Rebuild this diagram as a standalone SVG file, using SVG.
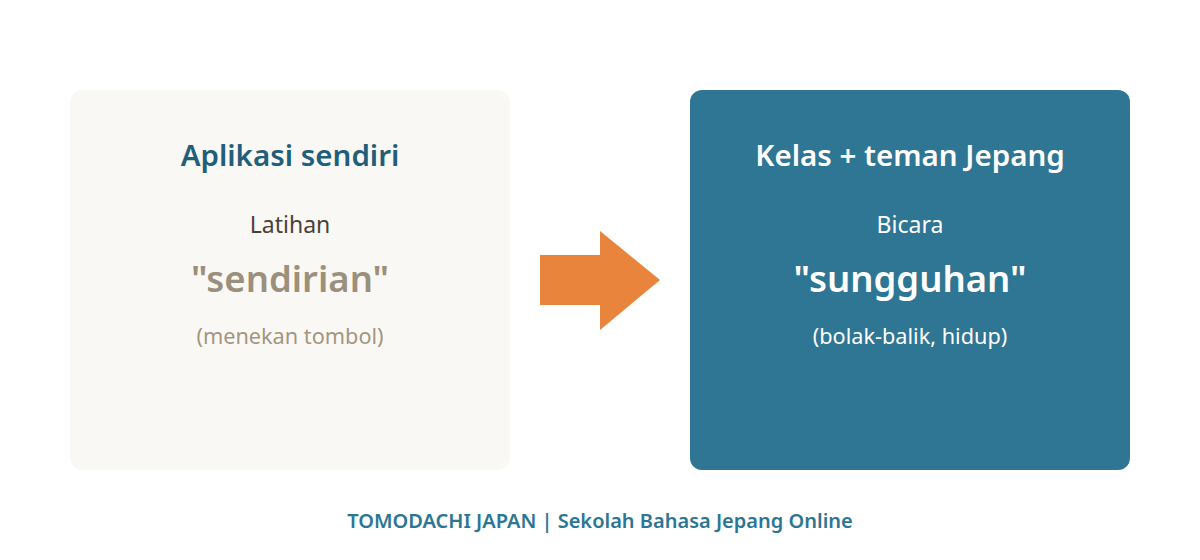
<svg xmlns="http://www.w3.org/2000/svg" width="1200" height="560" viewBox="0 0 1200 560">
<style>
text{font-family:"Noto Sans","Open Sans","DejaVu Sans",sans-serif;text-anchor:middle}
.t{font-size:29.5px;font-weight:600}
.s{font-size:23px}
.b{font-size:36.5px;font-weight:600}
.p{font-size:21.7px}
</style>
<rect width="1200" height="560" fill="#ffffff"/>
<g id="node-left">
<rect x="70" y="90" width="440" height="380" rx="12" fill="#faf8f4"/>
<text class="t" x="290" y="166" fill="#1f5f7a">Aplikasi sendiri</text>
<text class="s" x="290" y="233" fill="#4a4136">Latihan</text>
<text class="b" x="290" y="292" fill="#9b907c">"sendirian"</text>
<text class="p" x="290" y="344" fill="#a39682">(menekan tombol)</text>
</g>
<g id="connectors">
<polygon points="540,255 600,255 600,231 660,280 600,330 600,305 540,305" fill="#e8843b"/>
</g>
<g id="node-right">
<rect x="690" y="90" width="440" height="380" rx="12" fill="#2e7693"/>
<text class="t" x="910" y="166" fill="#ffffff">Kelas + teman Jepang</text>
<text class="s" x="910" y="233" fill="#ffffff">Bicara</text>
<text class="b" x="910" y="292" fill="#ffffff">"sungguhan"</text>
<text class="p" x="910" y="344" fill="#ffffff">(bolak-balik, hidup)</text>
</g>
<g id="footer">
<text x="600" y="528" font-size="20" font-weight="600" fill="#2d7693">TOMODACHI JAPAN | Sekolah Bahasa Jepang Online</text>
</g>
</svg>
